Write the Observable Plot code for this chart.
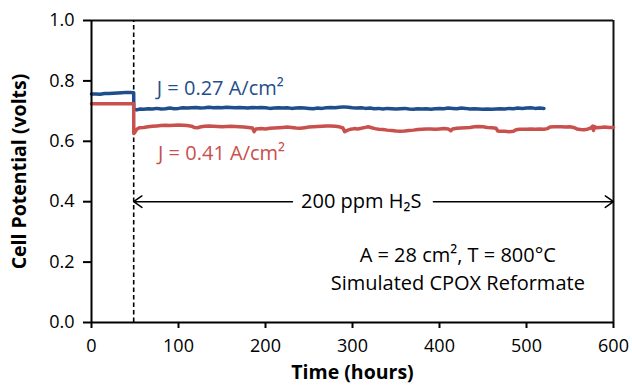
<!DOCTYPE html>
<html>
<head>
<meta charset="utf-8">
<script src="https://cdn.jsdelivr.net/npm/d3@7"></script>
<script src="https://cdn.jsdelivr.net/npm/@observablehq/plot@0.6"></script>
<style>
  html, body { margin: 0; padding: 0; background: #fff; }
</style>
</head>
<body>
<div id="chart"></div>
<script>
// ---- data ----
const xTicks = [0, 100, 200, 300, 400, 500, 600];
const yTicks = [0.0, 0.2, 0.4, 0.6, 0.8, 1.0];

const blueLabel = "J = 0.27 A/cm²";
const blueHours = [0,5,10,15,20,25,30,35,40,45,48.5,48.6,52,56,60,65,70,75,80,85,90,95,100,105,110,115,120,125,130,135,140,145,150,155,160,165,170,175,180,185,190,195,200,205,210,215,220,225,230,235,240,245,250,255,260,265,270,275,280,285,290,295,300,305,310,315,320,325,330,335,340,345,350,355,360,365,370,375,380,385,390,395,400,405,410,415,420,425,430,435,440,445,450,455,460,465,470,475,480,485,490,495,500,505,510,515,520];
const blueVolts = [.757,.757,.756,.758,.758,.759,.760,.761,.762,.762,.761,.706,.704,.707,.706,.708,.707,.709,.707,.708,.710,.708,.709,.711,.710,.711,.712,.710,.711,.713,.711,.712,.711,.713,.712,.711,.712,.711,.710,.712,.711,.712,.711,.709,.710,.711,.710,.711,.709,.710,.711,.710,.709,.708,.710,.709,.711,.712,.711,.713,.714,.713,.711,.710,.711,.709,.710,.708,.709,.707,.709,.708,.707,.708,.709,.707,.706,.708,.707,.708,.706,.708,.709,.708,.710,.709,.708,.710,.709,.707,.708,.707,.706,.707,.706,.707,.708,.707,.709,.708,.710,.709,.710,.711,.709,.710,.709];

const redLabel = "J = 0.41 A/cm²";
const redHours = [0,10,20,30,40,48.5,48.6,50,52,55,60,65,70,75,80,85,90,95,100,105,110,115,118,122,126,130,135,140,145,150,155,160,165,170,175,180,185,187,189,195,200,205,210,215,220,225,230,235,240,245,250,255,260,265,270,275,280,285,289,291,294,298,302,306,310,315,318,322,326,330,335,340,345,350,355,360,365,370,375,380,385,390,395,400,405,410,413,415,420,425,430,435,440,445,450,455,460,465,467,470,475,480,485,488,492,500,505,510,515,520,524,527,532,540,545,550,554,558,562,566,570,574,576,577,578,580,585,590,595,600];
const redVolts = [.724,.724,.724,.724,.724,.724,.626,.630,.640,.645,.646,.648,.650,.651,.652,.653,.652,.653,.654,.653,.652,.650,.646,.645,.648,.650,.651,.650,.649,.648,.649,.650,.649,.648,.647,.646,.644,.632,.641,.642,.641,.643,.644,.645,.646,.647,.646,.644,.643,.645,.647,.648,.649,.650,.651,.651,.650,.648,.644,.632,.636,.640,.642,.641,.643,.646,.648,.645,.642,.640,.639,.637,.636,.634,.633,.634,.636,.637,.639,.640,.641,.641,.640,.641,.642,.641,.635,.641,.643,.644,.645,.646,.648,.649,.648,.646,.645,.643,.634,.633,.633,.632,.633,.638,.640,.640,.641,.640,.641,.640,.642,.647,.648,.648,.647,.648,.646,.641,.639,.638,.640,.644,.650,.636,.649,.645,.646,.647,.646,.646];

const h2sStart = 48.5;       // hour at which H2S is introduced
const arrowLeft = [231, h2sStart];  // x1 -> x2 of left arrow segment
const arrowRight = [393, 600];      // x1 -> x2 of right arrow segment
const arrowLevel = 0.4;
const h2sLabel = "200 ppm H₂S";
const condLines = ["A = 28 cm², T = 800°C", "Simulated CPOX Reformate"];

const blueColor = "#1f4e8c";
const redColor = "#c8504d";

// ---- build tables ----
const blue = blueHours.map((h, i) => ({hour: h, v: blueVolts[i]}));
const red = redHours.map((h, i) => ({hour: h, v: redVolts[i]}));
const arrows = [
  {x1: arrowLeft[0], x2: arrowLeft[1], y: arrowLevel},
  {x1: arrowRight[0], x2: arrowRight[1], y: arrowLevel}
];

const chart = Plot.plot({
  width: 632,
  height: 389,
  marginLeft: 91,
  marginRight: 19,
  marginTop: 20,
  marginBottom: 67,
  style: {fontFamily: "'Open Sans', sans-serif", color: "#000", background: "#fff"},
  x: {domain: [0, 600]},
  y: {domain: [0, 1]},
  marks: [
    Plot.axisY({ticks: yTicks, tickFormat: d3.format(".1f"), tickSize: 8, tickPadding: 9, fontSize: 18, label: null, strokeWidth: 2}),
    Plot.axisX({ticks: xTicks, tickSize: 6, tickPadding: 11, fontSize: 18, label: null, strokeWidth: 2}),
    Plot.ruleY([1], {stroke: "#111", strokeWidth: 2}),
    Plot.ruleX([600], {stroke: "#111", strokeWidth: 2}),
    Plot.ruleX([h2sStart], {y1: 0, y2: 1, stroke: "#000", strokeWidth: 1.6, strokeDasharray: "4.5,3"}),
    Plot.line(blue, {x: "hour", y: "v", stroke: blueColor, strokeWidth: 3.5}),
    Plot.line(red, {x: "hour", y: "v", stroke: redColor, strokeWidth: 3.5}),
    Plot.ruleX([0], {stroke: "#000", strokeWidth: 2}),
    Plot.ruleY([0], {stroke: "#000", strokeWidth: 2}),
    Plot.arrow(arrows, {x1: "x1", x2: "x2", y1: "y", y2: "y", stroke: "#000", strokeWidth: 1.5, headLength: 10, headAngle: 70}),
    Plot.text([h2sLabel], {x: 310, y: arrowLevel, fontSize: 20}),
    Plot.text([blueLabel], {x: 75, y: 0.776, textAnchor: "start", fill: blueColor, fontSize: 20}),
    Plot.text([redLabel], {x: 76.5, y: 0.558, textAnchor: "start", fill: redColor, fontSize: 20}),
    Plot.text([condLines[0]], {x: 421, y: 0.222, fontSize: 20}),
    Plot.text([condLines[1]], {x: 421, y: 0.128, fontSize: 20}),
    Plot.text(["Time (hours)"], {frameAnchor: "bottom", dy: 56, fontSize: 19.5, fontWeight: "bold"}),
    Plot.text(["Cell Potential (volts)"], {frameAnchor: "left", textAnchor: "middle", dx: -72, rotate: -90, fontSize: 19.5, fontWeight: "bold"})
  ]
});
document.getElementById("chart").appendChild(chart);
</script>
</body>
</html>
